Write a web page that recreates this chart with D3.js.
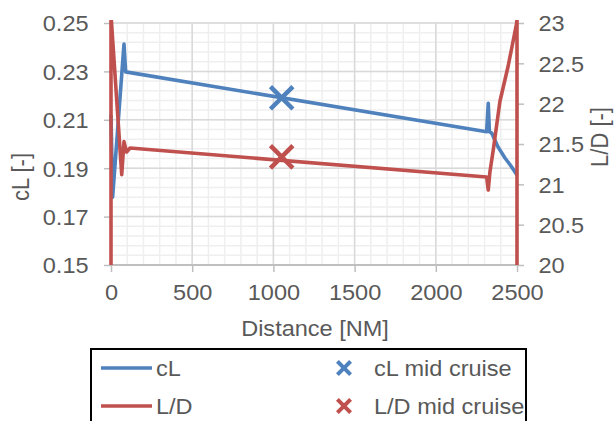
<!DOCTYPE html>
<html>
<head>
<meta charset="utf-8">
<script src="https://cdn.jsdelivr.net/npm/d3@7"></script>
<style>
  body { margin: 0; background: #fff; }
  text { font-family: "Liberation Sans", Arial, sans-serif; fill: #595959; }
</style>
</head>
<body>
<div id="chart"></div>
<script>
// values
const cLDist = [0, 10, 80, 90, 2313, 2323, 2330, 2344, 2383, 2426, 2463, 2500];
const cLVals = [0.212, 0.178, 0.2413, 0.2298, 0.2051, 0.2168, 0.2051, 0.2045, 0.1988, 0.1942, 0.1909, 0.1872];

const ldDist = [0, 0, 66, 80, 96, 117, 2313, 2323, 2333, 2354, 2395, 2446, 2498, 2500, 2500];
const ldVals = [20, 23.1, 21.12, 21.53, 21.4, 21.45, 21.09, 20.93, 21.15, 21.43, 22.03, 22.47, 23.0, 23.1, 20];

const midDist = [1051];
const cLMid = [0.2191];
const ldMid = [21.34];

const xTicks = [0, 500, 1000, 1500, 2000, 2500];
const cLTicks = [0.15, 0.17, 0.19, 0.21, 0.23, 0.25];
const ldTicks = [20, 20.5, 21, 21.5, 22, 22.5, 23];

const legendItems = ["cL", "L/D", "cL mid cruise", "L/D mid cruise"];

const width = 616, height = 421;
const blue = "#4f81bd", red = "#c0504d";
const stretch = 1.07;
const fs = 22;

const svg = d3.select("#chart").append("svg")
  .attr("width", width).attr("height", height)
  .attr("viewBox", [0, 0, width, height]);

const x = d3.scaleLinear().domain([0, 2500]).range([111, 517]);
const yL = d3.scaleLinear().domain([0.15, 0.25]).range([265, 23]);
const yR = d3.scaleLinear().domain([20, 23]).range([265, 23]);

// grid: minor then major
const grid = svg.append("g");
grid.selectAll(".vminor").data(d3.range(0, 2501, 100)).join("line")
  .attr("x1", d => x(d)).attr("x2", d => x(d)).attr("y1", 23).attr("y2", 265)
  .attr("stroke", "#efefef").attr("stroke-width", 1.5);
grid.selectAll(".hminor").data(d3.range(0, 26).map(i => 0.15 + i * 0.004)).join("line")
  .attr("x1", 111).attr("x2", 517).attr("y1", d => yL(d)).attr("y2", d => yL(d))
  .attr("stroke", "#efefef").attr("stroke-width", 1.5);
grid.selectAll(".vmajor").data(xTicks).join("line")
  .attr("x1", d => x(d)).attr("x2", d => x(d)).attr("y1", 23).attr("y2", 265)
  .attr("stroke", "#d9d9d9").attr("stroke-width", 1.5);
grid.selectAll(".hmajor").data(cLTicks).join("line")
  .attr("x1", 111).attr("x2", 517).attr("y1", d => yL(d)).attr("y2", d => yL(d))
  .attr("stroke", "#d9d9d9").attr("stroke-width", 1.5);

function styleAxis(g) {
  g.select(".domain").remove();
  g.selectAll(".tick line").attr("stroke", "#bfbfbf").attr("stroke-width", 1.5);
  g.selectAll(".tick text").attr("fill", "#595959").style("font-size", fs + "px")
    .style("font-family", "Liberation Sans, Arial, sans-serif");
}

const gx = svg.append("g").attr("transform", "translate(0,265)")
  .call(d3.axisBottom(x).tickValues(xTicks).tickFormat(d3.format("d")).tickSize(7).tickPadding(12));
styleAxis(gx);
gx.append("line").attr("x1", 111).attr("x2", 517).attr("stroke", "#bfbfbf").attr("stroke-width", 2);
gx.selectAll(".tick text").attr("transform", `scale(${stretch},1)`);

const gyL = svg.append("g").attr("transform", "translate(111,0)")
  .call(d3.axisLeft(yL).tickValues(cLTicks).tickFormat(d3.format(".2f")).tickSize(7).tickPadding(14));
styleAxis(gyL);
gyL.selectAll(".tick text").attr("dy", "0.36em").attr("transform", `scale(${stretch},1)`);

const gyR = svg.append("g").attr("transform", "translate(517,0)")
  .call(d3.axisRight(yR).tickValues(ldTicks).tickFormat(d => String(d)).tickSize(7).tickPadding(13));
styleAxis(gyR);
gyR.selectAll(".tick text").attr("dy", "0.36em").attr("transform", `scale(${stretch},1)`);

// axis titles
svg.append("text").attr("transform", `translate(315,336) scale(${stretch},1)`)
  .attr("text-anchor", "middle").style("font-size", fs + "px").text("Distance [NM]");
svg.append("text").attr("transform", `translate(29,177) scale(${stretch},1) rotate(-90)`)
  .attr("text-anchor", "middle").style("font-size", fs + "px").text("cL [-]");
svg.append("text").attr("transform", `translate(608,137) scale(${stretch},1) rotate(-90)`)
  .attr("text-anchor", "middle").style("font-size", fs + "px").text("L/D [-]");

// series
svg.append("clipPath").attr("id", "plotclip").append("rect")
  .attr("x", 105).attr("y", 20).attr("width", 420).attr("height", 247);

const plot = svg.append("g").attr("clip-path", "url(#plotclip)");

const cLData = cLDist.map((d, i) => [d, cLVals[i]]);
const ldData = ldDist.map((d, i) => [d, ldVals[i]]);

plot.append("path").datum(cLData)
  .attr("fill", "none").attr("stroke", blue).attr("stroke-width", 3.6)
  .attr("stroke-linejoin", "round")
  .attr("d", d3.line().x(d => x(d[0])).y(d => yL(d[1])));

plot.append("path").datum(ldData)
  .attr("fill", "none").attr("stroke", red).attr("stroke-width", 3.6)
  .attr("stroke-linejoin", "round")
  .attr("d", d3.line().x(d => x(d[0])).y(d => yR(d[1])));

const bigX = d3.symbol(d3.symbolX, 330);
plot.selectAll(".mcl").data(midDist).join("path")
  .attr("transform", (d, i) => `translate(${x(d)},${yL(cLMid[i])})`)
  .attr("d", bigX).attr("fill", "none").attr("stroke", blue).attr("stroke-width", 4.5);
plot.selectAll(".mld").data(midDist).join("path")
  .attr("transform", (d, i) => `translate(${x(d)},${yR(ldMid[i])})`)
  .attr("d", bigX).attr("fill", "none").attr("stroke", red).attr("stroke-width", 4.5);

// legend
const lg = svg.append("g");
lg.append("rect").attr("x", 91).attr("y", 349).attr("width", 435).attr("height", 90)
  .attr("fill", "#fff").attr("stroke", "#000").attr("stroke-width", 2);

const rowY = [368, 406];
const colors = [blue, red];
legendItems.forEach((name, i) => {
  const row = i % 2, col = Math.floor(i / 2);
  const cy = rowY[row];
  if (col === 0) {
    lg.append("line").attr("x1", 101).attr("x2", 152).attr("y1", cy).attr("y2", cy)
      .attr("stroke", colors[row]).attr("stroke-width", 3.6);
    lg.append("text").attr("transform", `translate(156,${cy}) scale(${stretch},1)`)
      .attr("dy", "0.36em").style("font-size", fs + "px").text(name);
  } else {
    lg.append("path").attr("transform", `translate(344,${cy})`)
      .attr("d", d3.symbol(d3.symbolX, 115)).attr("fill", "none")
      .attr("stroke", colors[row]).attr("stroke-width", 4);
    lg.append("text").attr("transform", `translate(374,${cy}) scale(${stretch},1)`)
      .attr("dy", "0.36em").style("font-size", fs + "px").text(name);
  }
});
</script>
</body>
</html>
